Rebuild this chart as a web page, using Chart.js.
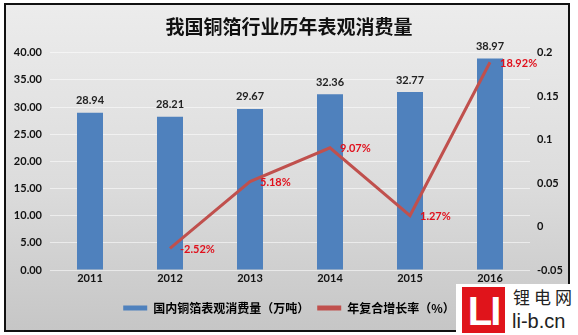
<!DOCTYPE html>
<html lang="zh">
<head>
<meta charset="UTF-8">
<title>我国铜箔行业历年表观消费量</title>
<script src="https://cdn.jsdelivr.net/npm/chart.js"></script>
<style>
    html, body { margin: 0; padding: 0; background: #fff; }
    #wrap { position: relative; width: 578px; height: 335px; }
    #frame {
        position: absolute; left: 4px; top: 3px; width: 562px; height: 325px;
        border: 2px solid #111;
        background: linear-gradient(to bottom, #ececec 0%, #dcdcdc 55%, #c6c6c6 100%);
    }
    #chart1 { position: absolute; left: 0; top: 0; }
    #logo {
        position: absolute; left: 456px; top: 284px; width: 122px; height: 51px;
        background: #fff;
    }
    #logo .mark {
        position: absolute; left: 6px; top: 3px; width: 43px; height: 46px;
        background: #e0141b; color: #fff;
        font: bold 40px "Liberation Sans", sans-serif; line-height: 48px;
        text-align: center; letter-spacing: -2px;
    }
    #logo .cn {
        position: absolute; left: 57px; top: 3px;
        font: 17px "Noto Sans CJK SC", sans-serif; letter-spacing: 4px; line-height: 20px; color: #222;
    }
    #logo .en {
        position: absolute; left: 56px; top: 25px;
        font: 20px "Liberation Sans", sans-serif; line-height: 24px; color: #222;
    }
</style>
</head>
<body>
<div id="wrap">
    <div id="frame"></div>
    <canvas id="chart1" width="578" height="335"></canvas>
    <div id="logo">
        <div class="mark">LI</div>
        <div class="cn">锂电网</div>
        <div class="en">li-b.cn</div>
    </div>
</div>
<script>
    const years = ['2011', '2012', '2013', '2014', '2015', '2016'];
    const consumption = [28.94, 28.21, 29.67, 32.36, 32.77, 38.97];   // 万吨
    const growthRate = [null, -0.0252, 0.0518, 0.0907, 0.0127, 0.1892];
    const barLabel = '国内铜箔表观消费量（万吨）';
    const lineLabel = '年复合增长率（%）';

    const barColor = '#4f81bd';
    const lineColor = '#c0504d';
    const numFont = 'Lato, "Noto Sans CJK SC", sans-serif';
    const cjkFont = '"Noto Sans CJK SC", sans-serif';

    // value labels above bars and beside line points
    const valueLabels = {
        id: 'valueLabels',
        afterDatasetsDraw(chart) {
            const ctx = chart.ctx;
            ctx.save();
            ctx.font = 'bold 11px ' + numFont;
            ctx.textBaseline = 'middle';

            ctx.fillStyle = '#222';
            ctx.textAlign = 'center';
            chart.getDatasetMeta(0).data.forEach((el, i) => {
                ctx.fillText(consumption[i].toFixed(2), el.x, el.y - 12);
            });

            ctx.fillStyle = '#e0101c';
            ctx.textAlign = 'left';
            chart.getDatasetMeta(1).data.forEach((el, i) => {
                if (growthRate[i] === null) return;
                ctx.fillText((growthRate[i] * 100).toFixed(2) + '%', el.x + 10, el.y + 1);
            });
            ctx.restore();
        }
    };

    const ctx = document.getElementById('chart1').getContext('2d');
    new Chart(ctx, {
        type: 'bar',
        data: {
            labels: years,
            datasets: [{
                type: 'bar',
                label: barLabel,
                data: consumption,
                backgroundColor: barColor,
                yAxisID: 'y',
                order: 1,
                barPercentage: 0.5,
                categoryPercentage: 0.65
            }, {
                type: 'line',
                label: lineLabel,
                data: growthRate,
                borderColor: lineColor,
                backgroundColor: lineColor,
                borderWidth: 3,
                pointRadius: 0,
                tension: 0,
                yAxisID: 'y1',
                order: 0
            }]
        },
        options: {
            responsive: false,
            animation: false,
            layout: { padding: { top: 0, bottom: 11, left: 0, right: 0 } },
            plugins: {
                title: {
                    display: true,
                    text: '我国铜箔行业历年表观消费量',
                    color: '#111',
                    font: { family: cjkFont, size: 19, weight: 'bold' },
                    padding: { top: 15, bottom: 15 }
                },
                legend: {
                    position: 'bottom',
                    labels: {
                        boxWidth: 24,
                        boxHeight: 5,
                        padding: 8,
                        color: '#111',
                        font: { family: cjkFont, size: 12, weight: 'bold' },
                        generateLabels: () => [
                            { text: barLabel, fillStyle: barColor, strokeStyle: barColor, lineWidth: 0, datasetIndex: 0 },
                            { text: lineLabel, fillStyle: lineColor, strokeStyle: lineColor, lineWidth: 0, datasetIndex: 1 }
                        ]
                    }
                },
                tooltip: { enabled: false }
            },
            scales: {
                x: {
                    grid: { display: false, drawTicks: false },
                    border: { display: false },
                    ticks: { color: '#111', padding: 2, font: { family: numFont, size: 11, weight: 'bold' } },
                    afterFit: s => { s.height = 24; }
                },
                y: {
                    position: 'left',
                    min: 0,
                    max: 40,
                    ticks: {
                        stepSize: 5,
                        padding: 8,
                        color: '#111',
                        font: { family: numFont, size: 11, weight: 'bold' },
                        callback: v => v.toFixed(2)
                    },
                    grid: { color: 'rgba(255,255,255,0.55)', drawTicks: false },
                    border: { display: false },
                    afterFit: s => { s.width = 50; }
                },
                y1: {
                    position: 'right',
                    min: -0.05,
                    max: 0.2,
                    ticks: {
                        stepSize: 0.05,
                        padding: 7,
                        color: '#111',
                        font: { family: numFont, size: 11, weight: 'bold' },
                        callback: v => String(Number(v.toFixed(2)))
                    },
                    grid: { display: false, drawTicks: false },
                    border: { display: false },
                    afterFit: s => { s.width = 48; }
                }
            }
        },
        plugins: [valueLabels]
    });
</script>
</body>
</html>
